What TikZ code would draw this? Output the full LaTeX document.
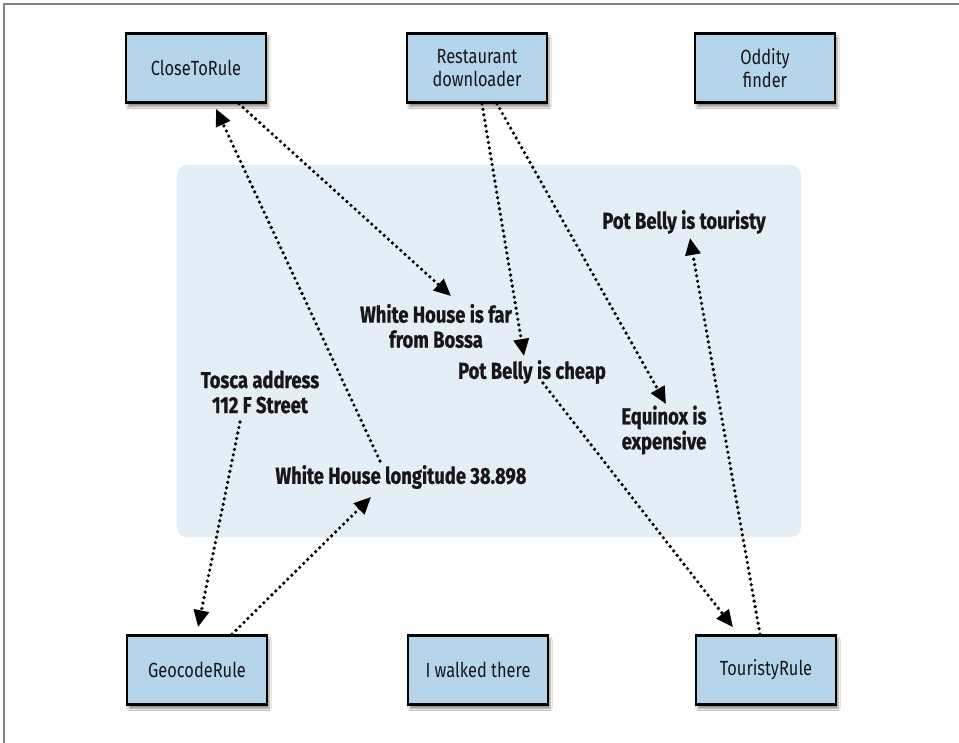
\documentclass[tikz,border=0pt]{standalone}
\usepackage{fontspec}
\setmainfont{Fira Sans}[FakeStretch=0.8,BoldFeatures={FakeBold=0.8}]
\usetikzlibrary{arrows.meta,shadows.blur}
\definecolor{boxfill}{RGB}{180,213,234}
\definecolor{panel}{RGB}{227,238,247}
\definecolor{ink}{RGB}{25,22,25}
\definecolor{framegray}{RGB}{130,130,130}
\begin{document}
\begin{tikzpicture}[x=1pt,y=-1pt,
  rulebox/.style={draw=black,line width=2.6pt,fill=boxfill,minimum width=140pt,minimum height=69pt,
    align=center,font=\fontsize{20.5}{23}\selectfont,text=ink,
    blur shadow={shadow xshift=2pt,shadow yshift=-4pt,shadow blur steps=6,shadow opacity=45}},
  fact/.style={inner sep=0pt,align=center,font=\bfseries\fontsize{23}{25}\selectfont,text=ink},
  link/.style={line width=3.6pt,dash pattern=on 0pt off 5.6pt,line cap=round,
    -{Triangle[length=17pt,width=15pt]}}]
\useasboundingbox (0,0) rectangle (959,743);
\fill[white] (0,0) rectangle (959,743);
% outer frame edges
\draw[framegray,line width=1.2pt] (4,743) -- (4,4) -- (959,4);
% fact panel
\fill[panel,rounded corners=10pt] (177,165) rectangle (801,537);

% rule and service boxes
\node[rulebox] (ctr)  at (196,68)  {CloseToRule};
\node[rulebox] (rest) at (477,68)  {Restaurant\\downloader};
\node[rulebox] (odd)  at (765,68)  {Oddity\\finder};
\node[rulebox] (geo)  at (197,670) {GeocodeRule};
\node[rulebox] (walk) at (478,670) {I walked there};
\node[rulebox] (tour) at (766,670) {TouristyRule};

% facts
\node[fact] (tourist) at (684,222) {Pot Belly is touristy};
\node[fact] (far)     at (436,326) {White House is far\\from Bossa};
\node[fact] (cheap)   at (532,372) {Pot Belly is cheap};
\node[fact] (tosca)   at (260,392) {Tosca address\\112 F Street};
\node[fact] (equinox) at (664,430) {Equinox is\\expensive};
\node[fact] (lon)     at (401,477) {White House longitude 38.898};

% connectors
\draw[link] ([xshift=43pt]ctr.south) -- ([xshift=15pt,yshift=30pt]far.center);
\draw[link] ([xshift=-21pt,yshift=16pt]lon.center) -- ([xshift=20pt,yshift=-5pt]ctr.south);
\draw[link] ([xshift=5pt]rest.south) -- ([xshift=-8pt,yshift=16pt]cheap.center);
\draw[link] ([xshift=20pt]rest.south) -- ([xshift=2pt,yshift=26pt]equinox.center);
\draw[link] ([xshift=11pt,yshift=-11pt]cheap.center) -- ([xshift=-33pt,yshift=7pt]tour.north);
\draw[link] ([xshift=-6pt]tour.north) -- ([xshift=6pt,yshift=-16pt]tourist.center);
\draw[link] ([xshift=-20pt,yshift=-30pt]tosca.center) -- ([xshift=1pt,yshift=7pt]geo.north);
\draw[link] ([xshift=35pt]geo.north) -- ([xshift=-30pt,yshift=-20pt]lon.center);
\end{tikzpicture}
\end{document}
